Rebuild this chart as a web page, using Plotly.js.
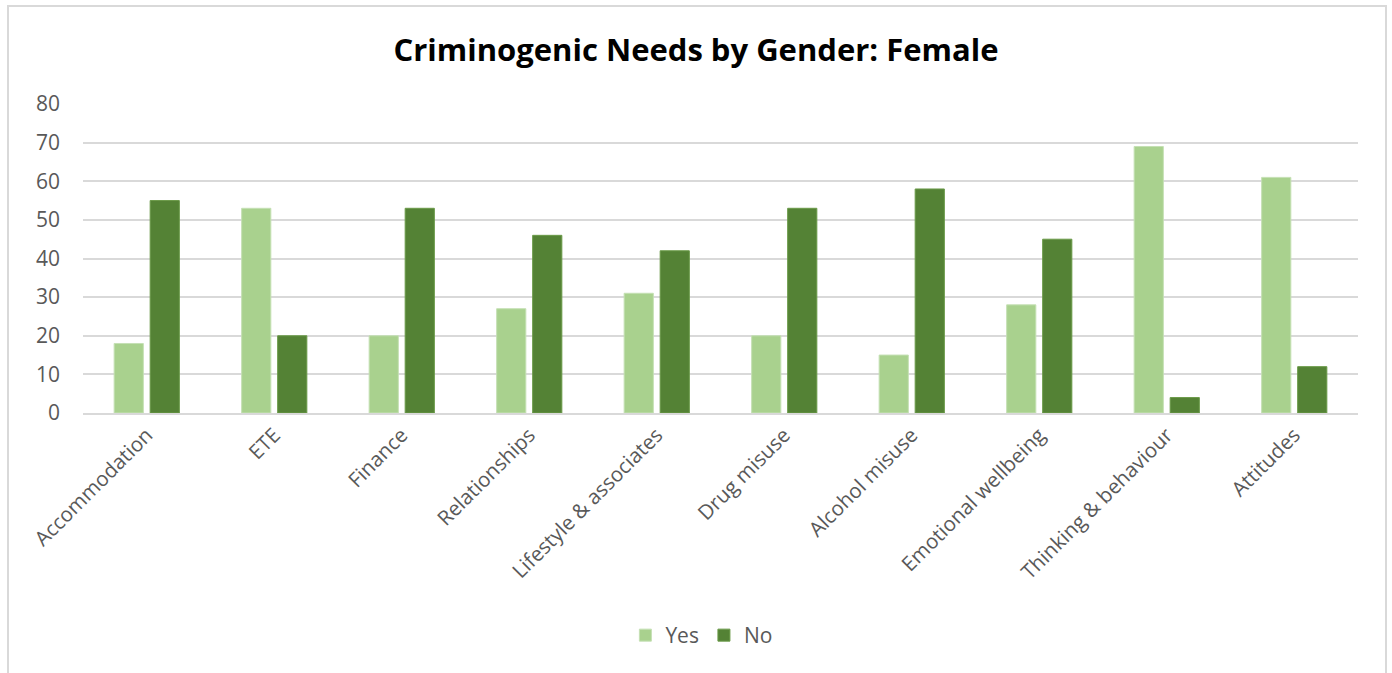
<!DOCTYPE html>
<html><head><meta charset="utf-8">
<script src="https://cdn.plot.ly/plotly-3.0.1.min.js"></script>
<style>
html,body{margin:0;padding:0;background:#fff;}
#wrap{position:relative;width:1392px;height:673px;}
#chart{position:absolute;left:0;top:0;width:1392px;height:673px;}
#border{position:absolute;left:7px;top:5px;width:1380px;height:680px;border:2px solid #D9D9D9;box-sizing:border-box;pointer-events:none;}
</style></head>
<body><div id="wrap"><div id="chart"></div><div id="border"></div></div>
<script>
const categories = ["Accommodation","ETE","Finance","Relationships","Lifestyle & associates","Drug misuse","Alcohol misuse","Emotional wellbeing","Thinking & behaviour","Attitudes"];
const yesValues = [18,53,20,27,31,20,15,28,69,61];
const noValues = [55,20,53,46,42,53,58,45,4,12];
const yTicks = [0,10,20,30,40,50,60,70,80];

const font = "'Open Sans', sans-serif";
const traces = [
  {type:"bar", name:"Yes", x:categories, y:yesValues, marker:{color:"#A9D18E", line:{color:"#C5E0B4", width:1}}, hoverinfo:"y"},
  {type:"bar", name:"No", x:categories, y:noValues, marker:{color:"#548235", line:{color:"#6A9A48", width:1}}, hoverinfo:"y"}
];
const layout = {
  width:1392, height:673,
  margin:{l:83, r:34, t:104, b:260},
  paper_bgcolor:"#fff", plot_bgcolor:"#fff",
  title:{text:"<b>Criminogenic Needs by Gender: Female</b>", x:0.5, xanchor:"center", y:0.925, yanchor:"middle", font:{family:font, size:31, color:"#000"}},
  barmode:"group", bargap:0.435, bargroupgap:0.19,
  xaxis:{tickangle:-45, tickfont:{family:font, size:20.5, color:"#595959"}, showline:true, linecolor:"#D9D9D9", linewidth:2, ticks:"", showgrid:false},
  yaxis:{range:[0,80], tickvals:yTicks, tickfont:{family:font, size:21, color:"#595959"}, showgrid:true, gridcolor:"#D9D9D9", gridwidth:2, zeroline:false, showline:false, ticks:"", ticklabelstandoff:22},
  showlegend:true,
  legend:{orientation:"h", x:0.485, xanchor:"center", y:-0.72, yanchor:"middle", font:{family:font, size:21, color:"#595959"}, itemwidth:30},
};
Plotly.newPlot("chart", traces, layout, {displayModeBar:false, staticPlot:true});
</script></body></html>
